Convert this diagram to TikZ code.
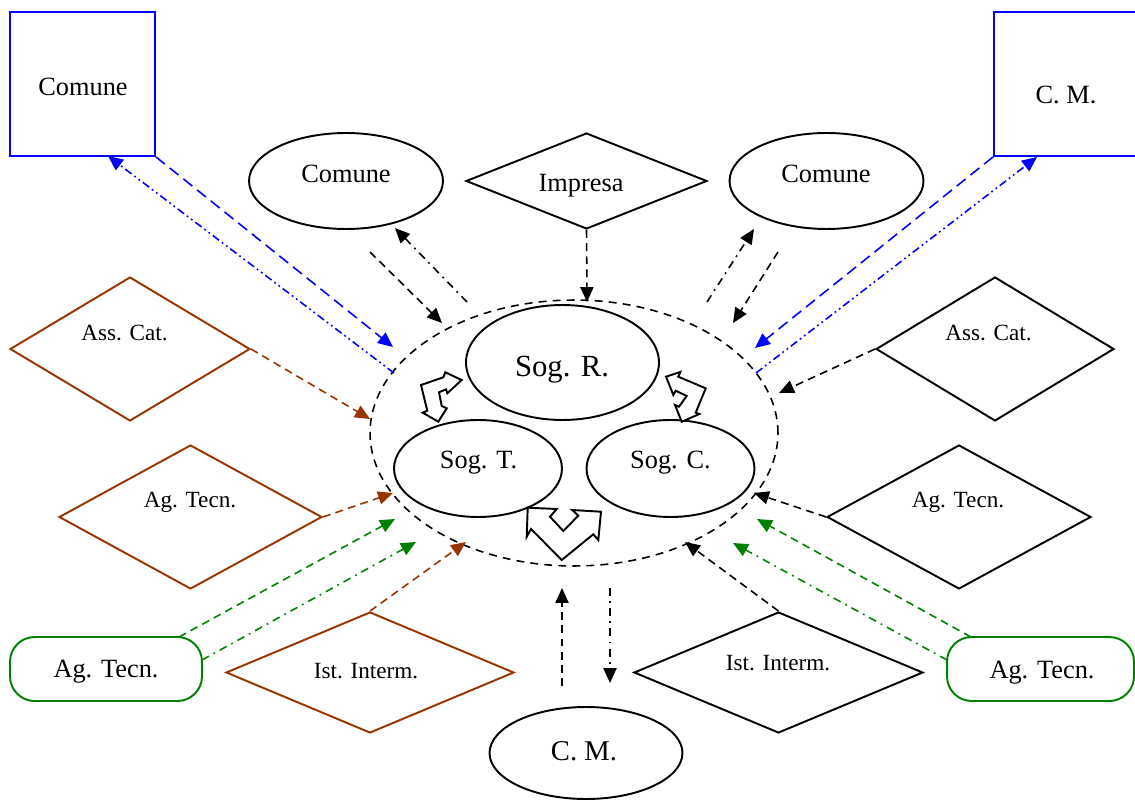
\documentclass[tikz,border=0pt]{standalone}
\usepackage{fontspec}
\setmainfont{Liberation Serif}
\usetikzlibrary{shapes.geometric,arrows.meta}
\definecolor{brn}{RGB}{153,51,0}
\definecolor{grn}{RGB}{0,128,0}
\definecolor{blu}{RGB}{0,0,255}
\newcommand{\szA}{\fontsize{15}{18}\selectfont}
\newcommand{\szB}{\fontsize{17.5}{21}\selectfont}
\newcommand{\szC}{\fontsize{13.2}{16}\selectfont}
\newcommand{\szD}{\fontsize{16.3}{20}\selectfont}
\begin{document}
\begin{tikzpicture}[x=0.02cm,y=-0.02cm,
  shp/.style={draw, line width=1.1pt, inner sep=0pt, fill=white},
  ell/.style={shp, ellipse},
  dia/.style={shp, diamond},
  box/.style={shp, rectangle, draw=blu},
  pill/.style={shp, rectangle, rounded corners=14pt, draw=grn},
  txt/.style={anchor=base, inner sep=0pt},
  con/.style={line width=0.9pt, -{Triangle[length=8.5pt,width=7.5pt]}},
  dsh/.style={dash pattern=on 4.5pt off 3pt},
  bdsh/.style={dash pattern=on 6.5pt off 3.5pt},
  dd/.style={dash pattern=on 4.5pt off 3pt on 1pt off 3pt},
  ddd/.style={dash pattern=on 4.5pt off 2pt on 1pt off 2pt on 1pt off 2pt},
  blk/.style={draw, line width=1.1pt, fill=white, line join=miter}]
\useasboundingbox (0,0) rectangle (1135,803);
\clip (0,0) rectangle (1135,803);

% central dashed ellipse
\node[draw, ellipse, line width=0.9pt, dash pattern=on 4.5pt off 3.5pt, minimum width=8.16cm, minimum height=5.32cm, inner sep=0pt] (cen) at (574,433) {};

% boxes
\node[box, minimum width=2.9cm, minimum height=2.88cm] (cbL) at (82.5,84) {};
\node[txt, font=\szA] (tcbL) at (83,96) {Comune};
\node[box, minimum width=2.9cm, minimum height=2.88cm] (cbR) at (1066.5,84) {};
\node[txt, font=\szA] (tcbR) at (1066,104) {C. M.};

% top ellipses and Impresa
\node[ell, minimum width=3.88cm, minimum height=1.92cm] (coL) at (346,181) {};
\node[txt, font=\szA] (tcoL) at (346,183) {Comune};
\node[ell, minimum width=3.88cm, minimum height=1.92cm] (coR) at (826.5,181) {};
\node[txt, font=\szA] (tcoR) at (826,183) {Comune};
\node[dia, minimum width=4.82cm, minimum height=1.92cm] (imp) at (586.5,181) {};
\node[txt, font=\szA] (timp) at (581,192) {Impresa};

% inner ellipses
\node[ell, minimum width=3.86cm, minimum height=2.3cm] (sr) at (562.5,362.5) {};
\node[txt, font=\szB] (tsr) at (562,377) {Sog. R.};
\node[ell, minimum width=3.36cm, minimum height=1.94cm] (st) at (478,468.5) {};
\node[txt, font=\szA] (tst) at (478.5,468) {Sog. T.};
\node[ell, minimum width=3.36cm, minimum height=1.94cm] (sc) at (670.5,468.5) {};
\node[txt, font=\szA] (tsc) at (670.5,468) {Sog. C.};

% bottom C. M.
\node[ell, minimum width=3.86cm, minimum height=1.84cm] (cmb) at (586,753) {};
\node[txt, font=\szD] (tcmb) at (584,760) {C. M.};

% Ass. Cat.
\node[dia, draw=brn, minimum width=4.8cm, minimum height=2.88cm] (acL) at (130,349) {};
\node[txt, font=\szC] (tacL) at (124.5,340.7) {Ass. Cat.};
\node[dia, minimum width=4.76cm, minimum height=2.88cm] (acR) at (995,349) {};
\node[txt, font=\szC] (tacR) at (988.5,340.7) {Ass. Cat.};

% Ag. Tecn. diamonds
\node[dia, draw=brn, minimum width=5.26cm, minimum height=2.88cm] (atL) at (190.5,517) {};
\node[txt, font=\szC] (tatL) at (190,507.7) {Ag. Tecn.};
\node[dia, minimum width=5.28cm, minimum height=2.88cm] (atR) at (959,517) {};
\node[txt, font=\szC] (tatR) at (958,507.7) {Ag. Tecn.};

% Ist. Interm.
\node[dia, draw=brn, minimum width=5.76cm, minimum height=2.42cm] (ilL) at (370,672.5) {};
\node[txt, font=\szC] (tilL) at (366,678) {Ist. Interm.};
\node[dia, minimum width=5.78cm, minimum height=2.42cm] (ilR) at (778.5,672.5) {};
\node[txt, font=\szC] (tilR) at (778,670) {Ist. Interm.};

% green pills
\node[pill, minimum width=3.84cm, minimum height=1.28cm] (gL) at (106,669) {};
\node[txt, font=\szA] (tgL) at (106,677) {Ag. Tecn.};
\node[pill, minimum width=3.74cm, minimum height=1.28cm] (gR) at (1040.5,669) {};
\node[txt, font=\szA] (tgR) at (1042,678) {Ag. Tecn.};

% free ends
\coordinate (e1) at (393,347);
\coordinate (s2) at (394,373);
\coordinate (e2) at (108,156);
\coordinate (s3) at (370,252);
\coordinate (e3) at (442,323);
\coordinate (s4) at (467,302);
\coordinate (e4) at (395,228);
\coordinate (e5) at (587,302);
\coordinate (s6) at (707,302);
\coordinate (e6) at (754,229);
\coordinate (s7) at (778,252);
\coordinate (e7) at (733,323);
\coordinate (e8) at (755,348);
\coordinate (s9) at (756,373);
\coordinate (e9) at (1037,157);
\coordinate (e10) at (370,419);
\coordinate (e11) at (779,393);
\coordinate (e12) at (393,493);
\coordinate (s13) at (179,637);
\coordinate (e13) at (395,519);
\coordinate (s14) at (202,660);
\coordinate (e14) at (416,542);
\coordinate (e15) at (466,542);
\coordinate (e16) at (754,493);
\coordinate (s17) at (971,637);
\coordinate (e17) at (757,519);
\coordinate (s18) at (947,660);
\coordinate (e18) at (733,543);
\coordinate (e19) at (685,542);
\coordinate (s20) at (562,686);
\coordinate (e20) at (562,588);
\coordinate (s21) at (610,588);
\coordinate (e21) at (610,683);

% connectors
\draw[con, bdsh, blu] (cbL.south east) -- (e1);
\draw[con, ddd, blu] (s2) -- (e2);
\draw[con, dsh] (s3) -- (e3);
\draw[con, dd] (s4) -- (e4);
\draw[con, dsh] (imp.south) -- (e5);
\draw[con, dd] (s6) -- (e6);
\draw[con, dsh] (s7) -- (e7);
\draw[con, bdsh, blu] (cbR.south west) -- (e8);
\draw[con, ddd, blu] (s9) -- (e9);
\draw[con, dsh, brn] (acL.east) -- (e10);
\draw[con, dsh] (acR.west) -- (e11);
\draw[con, dsh, brn] (atL.east) -- (e12);
\draw[con, dsh, grn] (s13) -- (e13);
\draw[con, dd, grn] (s14) -- (e14);
\draw[con, dsh, brn] (ilL.north) -- (e15);
\draw[con, dsh] (atR.west) -- (e16);
\draw[con, dsh, grn] (s17) -- (e17);
\draw[con, dd, grn] (s18) -- (e18);
\draw[con, dsh] (ilR.north) -- (e19);
\draw[con, dsh] (s20) -- (e20);
\draw[con, dd] (s21) -- (e21);

% block arrows
\draw[blk] (421,385) -- (443.3,377.3) -- (445.3,372.3) -- (461.7,380) -- (447.3,393.3) -- (446,389.3) -- (439,392.3) -- (441.7,406) -- (446.7,408.3) -- (438.3,421.7) -- (422.7,412.7) -- (427.3,410.7) -- cycle;
\draw[blk] (666,376.7) -- (680.3,372) -- (678.3,376.7) -- (705.7,388.3) -- (695.7,412.7) -- (699.3,414) -- (681.7,421.7) -- (675,405) -- (679,406.7) -- (686.7,396) -- (675.7,390.7) -- (673.3,395) -- cycle;
\draw[blk] (527.7,507.7) -- (556.7,509) -- (550,516.7) -- (563.3,531) -- (578.3,515.7) -- (572.3,510) -- (601,511.7) -- (598.3,540) -- (593.3,534.3) -- (561.7,560) -- (531,529) -- (526.7,536.7) -- cycle;
\end{tikzpicture}
\end{document}
